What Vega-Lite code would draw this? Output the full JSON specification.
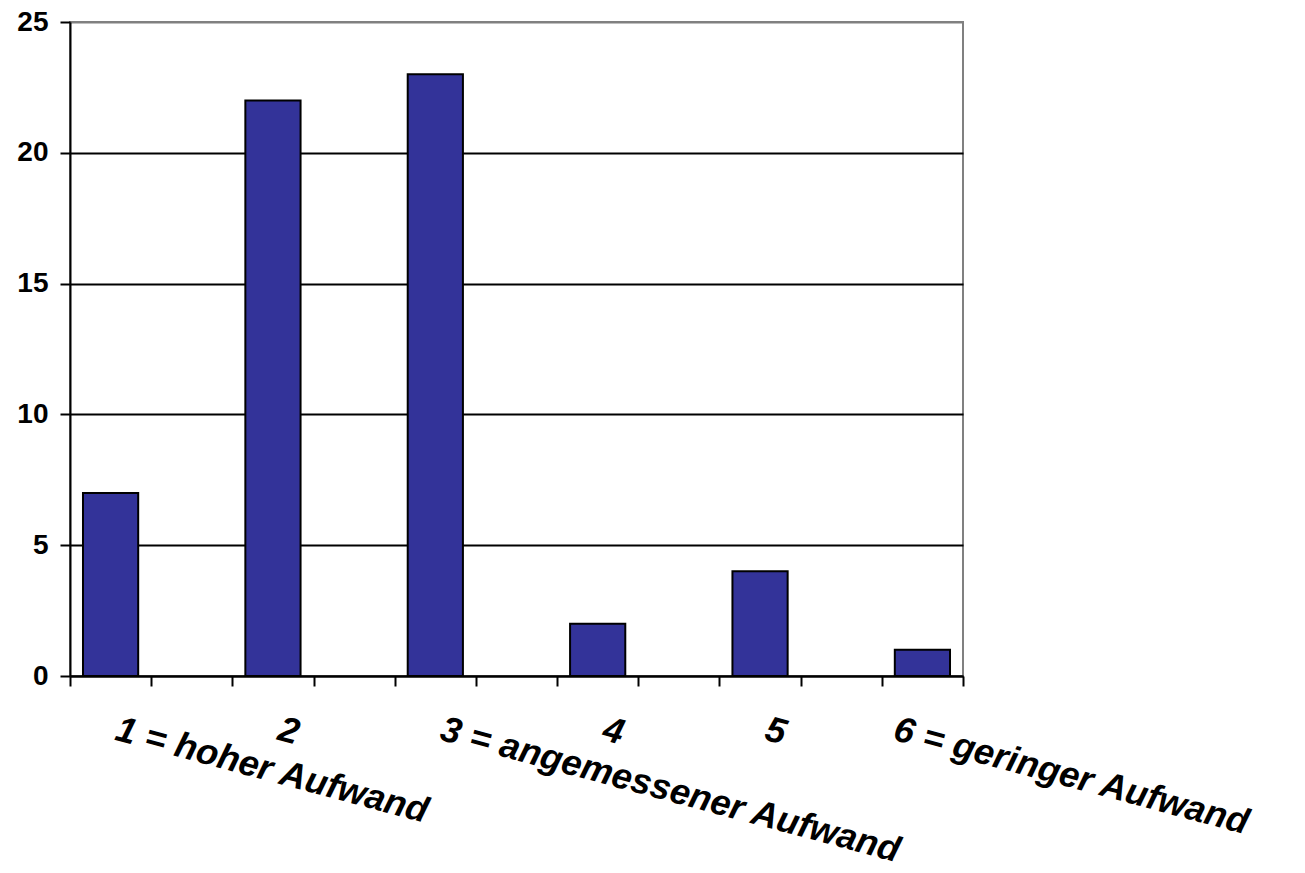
{
  "$schema": "https://vega.github.io/schema/vega-lite/v6.json",
  "autosize": "none",
  "width": 893,
  "height": 654,
  "padding": {"left": 70, "top": 22, "right": 342, "bottom": 197},
  "background": "white",
  "config": {
    "view": {"stroke": "#808080", "strokeWidth": 2},
    "font": "Liberation Sans"
  },
  "data": {
    "values": [
      {"Bewertung": "1 = hoher Aufwand", "Anzahl": 7},
      {"Bewertung": "2", "Anzahl": 22},
      {"Bewertung": "3 = angemessener Aufwand", "Anzahl": 23},
      {"Bewertung": "4", "Anzahl": 2},
      {"Bewertung": "5", "Anzahl": 4},
      {"Bewertung": "6 = geringer Aufwand", "Anzahl": 1}
    ]
  },
  "mark": {"type": "bar", "color": "#333399", "stroke": "black", "strokeWidth": 2, "width": {"band": 0.68}},
  "encoding": {
    "x": {
      "field": "Bewertung",
      "type": "nominal",
      "scale": {
        "domain": ["1 = hoher Aufwand", " ", "2", "  ", "3 = angemessener Aufwand", "   ", "4", "    ", "5", "     ", "6 = geringer Aufwand"],
        "paddingInner": 0,
        "paddingOuter": 0
      },
      "axis": {
        "title": null,
        "tickBand": "extent",
        "domainColor": "black",
        "domainWidth": 2,
        "tickColor": "black",
        "tickWidth": 2,
        "tickSize": 10,
        "labelAngle": 15,
        "labelAlign": "left",
        "labelBaseline": "top",
        "labelFont": "Liberation Sans",
        "labelFontSize": 36,
        "labelFontWeight": "bold",
        "labelFontStyle": "italic",
        "labelColor": "black",
        "labelPadding": 26,
        "labelOffset": {"condition": {"test": "datum.label === '6 = geringer Aufwand'", "value": -24}, "value": 10},
        "labelOverlap": false,
        "labelLimit": 700,
        "grid": false
      }
    },
    "y": {
      "field": "Anzahl",
      "type": "quantitative",
      "scale": {"domain": [0, 25], "nice": false},
      "axis": {
        "title": null,
        "values": [0, 5, 10, 15, 20, 25],
        "domainColor": "black",
        "domainWidth": 2,
        "tickColor": "black",
        "tickWidth": 2,
        "tickSize": 10,
        "labelFont": "Liberation Sans",
        "labelFontSize": 28,
        "labelFontWeight": "bold",
        "labelColor": "black",
        "labelPadding": 12,
        "grid": true,
        "gridColor": {"condition": {"test": "datum.value === 25", "value": "#808080"}, "value": "black"},
        "gridWidth": 2,
        "gridOpacity": 1
      }
    }
  }
}
